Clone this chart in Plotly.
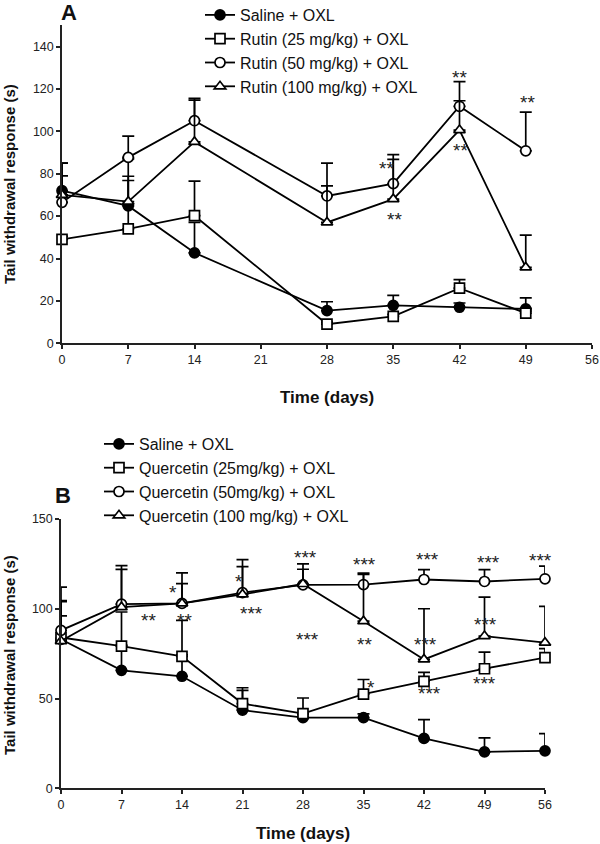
import plotly.graph_objects as go

FONT = "Liberation Sans, Arial, Helvetica, sans-serif"
W, H = 600, 844

# ---------------- Panel A data ----------------
days_a = [0, 7, 14, 28, 35, 42, 49]
names_a = ["Saline + OXL", "Rutin (25 mg/kg) + OXL", "Rutin (50 mg/kg) + OXL", "Rutin (100 mg/kg) + OXL"]
saline_a = [72, 64.8, 42.7, 15.4, 17.9, 17.0, 16.2]
saline_a_err = [13, 12, 14.3, 4.2, 4.7, 2, 5.2]
rutin25 = [49, 54, 60.2, 9, 12.7, 26, 14.2]
rutin25_err = [1.5, 33, 16.3, 1, 1, 4, 1]
rutin50 = [66.5, 87.7, 105, 69.5, 75.3, 111.8, 90.8]
rutin50_err = [12.5, 10, 10.5, 15.5, 13.7, 11.6, 18.2]
rutin100 = [70, 66.8, 95, 57, 68, 100.6, 35.8]
rutin100_err = [15, 12, 19.7, 17.3, 18.8, 13.8, 15.2]

sig_a_x = [34.3, 35.1, 42.0, 42.1, 49.2]
sig_a_y = [83.7, 60, 127, 92.5, 115]
sig_a_txt = ["**", "**", "**", "**", "**"]

# ---------------- Panel B data ----------------
days_b = [0, 7, 14, 21, 28, 35, 42, 49, 56]
names_b = ["Saline + OXL", "Quercetin (25mg/kg) + OXL", "Quercetin (50mg/kg) + OXL", "Quercetin (100 mg/kg) + OXL"]
saline_b = [83, 65.7, 62.4, 43.5, 39.4, 39.4, 27.8, 20.3, 20.9]
saline_b_err = [13, 14, 12, 11, 2, 2, 10.5, 7.8, 9.6]
querc25 = [84, 79.2, 73.5, 47.2, 41.6, 52.4, 59.6, 66.6, 72.8]
querc25_err = [20, 19, 20, 8.8, 8.7, 8.2, 5, 9.3, 5]
querc50 = [88, 102.6, 103, 109, 113.3, 113.5, 116.3, 115.2, 116.7]
querc50_err = [24, 21.4, 17, 18.4, 8.7, 6.3, 5.5, 6.6, 7]
querc100 = [82, 100.9, 103, 108, 113.8, 93.1, 71.8, 84.8, 81.1]
querc100_err = [22.6, 21, 11, 15.5, 11.2, 26, 28.2, 21.7, 20.2]

sig_b_x = [10.1, 13.0, 14.3, 20.6, 22.0, 28.3, 28.5, 35.1, 35.1, 35.9, 42.4, 42.2, 42.6, 49.5, 49.1, 49.0, 55.5]
sig_b_y = [95.3, 111, 95.3, 116.8, 99, 130, 84.8, 126.3, 81.5, 57.8, 129, 82, 54.2, 127.6, 93.1, 59.8, 128.7]
sig_b_txt = ["**", "*", "**", "*", "***", "***", "***", "***", "**", "*", "***", "***", "***", "***", "***", "***", "***"]

symbols = ["circle", "square", "circle", "triangle-up"]
fills = ["black", "white", "white", "white"]

fig = go.Figure()

def add_series(x, y, err, name, sym, fill, xa, ya, legend):
    fig.add_trace(go.Scatter(
        x=x, y=y, name=name, mode="lines+markers",
        xaxis=xa, yaxis=ya, legend=legend, cliponaxis=False,
        line=dict(color="black", width=1.8),
        marker=dict(symbol=sym, size=10, color=fill, line=dict(color="black", width=1.7)),
        error_y=dict(type="data", symmetric=False, array=err, arrayminus=[0] * len(err),
                     color="black", thickness=1.7, width=6),
    ))

series_a = [saline_a, rutin25, rutin50, rutin100]
errs_a = [saline_a_err, rutin25_err, rutin50_err, rutin100_err]
for i in range(4):
    add_series(days_a, series_a[i], errs_a[i], names_a[i], symbols[i], fills[i], "x", "y", "legend")

series_b = [saline_b, querc25, querc50, querc100]
errs_b = [saline_b_err, querc25_err, querc50_err, querc100_err]
for i in range(4):
    add_series(days_b, series_b[i], errs_b[i], names_b[i], symbols[i], fills[i], "x2", "y2", "legend2")

def px_x(p):
    return p / W

def px_y(p):
    return 1 - p / H

axis_common = dict(
    showline=True, linecolor="#222", linewidth=1.5, showgrid=False, zeroline=False,
    ticks="outside", ticklen=4, tickwidth=1.5, tickcolor="#222", automargin=False,
    tickfont=dict(family=FONT, size=12.5, color="#222"),
)

ann = []
for x, y, t in zip(sig_a_x, sig_a_y, sig_a_txt):
    ann.append(dict(x=x, y=y, xref="x", yref="y", text=t, showarrow=False, xanchor="center", yanchor="middle",
                    font=dict(family=FONT, size=19, color="#222"), yshift=-3))
for x, y, t in zip(sig_b_x, sig_b_y, sig_b_txt):
    ann.append(dict(x=x, y=y, xref="x2", yref="y2", text=t, showarrow=False, xanchor="center", yanchor="middle",
                    font=dict(family=FONT, size=19, color="#222"), yshift=-3))

def paper_text(text, x, y, size, angle=0):
    return dict(text=text, x=px_x(x), y=px_y(y), xref="paper", yref="paper", showarrow=False,
                xanchor="center", yanchor="middle", textangle=angle,
                font=dict(family=FONT, size=size, color="#111"))

ann += [
    paper_text("<b>A</b>", 69, 12, 22),
    paper_text("<b>B</b>", 63, 495, 22),
    paper_text("<b>Time (days)</b>", 327, 397, 17),
    paper_text("<b>Time (days)</b>", 303, 833, 17),
    paper_text("<b>Tail withdrawal response (s)</b>", 9, 184, 15, -90),
    paper_text("<b>Tail withdrawal response (s)</b>", 9, 655, 15, -90),
]

legend_common = dict(bgcolor="rgba(0,0,0,0)", font=dict(family=FONT, size=16, color="#111"),
                     xanchor="left", yanchor="top", itemwidth=30, tracegroupgap=0)

fig.update_layout(
    width=W, height=H, margin=dict(l=0, r=0, t=0, b=0, autoexpand=False),
    paper_bgcolor="white", plot_bgcolor="white", showlegend=True,
    font=dict(family=FONT, color="#111"),
    xaxis=dict(domain=[px_x(62), px_x(592)], range=[0, 56], tickvals=[0, 7, 14, 21, 28, 35, 42, 49, 56],
               anchor="y", **axis_common),
    yaxis=dict(domain=[px_y(343.3), px_y(25.3)], range=[0, 150], tickvals=[0, 20, 40, 60, 80, 100, 120, 140],
               anchor="x", **axis_common),
    xaxis2=dict(domain=[px_x(61), px_x(545)], range=[0, 56], tickvals=[0, 7, 14, 21, 28, 35, 42, 49, 56],
                anchor="y2", **axis_common),
    yaxis2=dict(domain=[px_y(788.3), px_y(519)], range=[0, 150], tickvals=[0, 50, 100, 150],
                anchor="x2", **axis_common),
    legend=dict(x=px_x(200), y=px_y(-2), **legend_common),
    legend2=dict(x=px_x(99), y=px_y(427), **legend_common),
    annotations=ann,
)

fig.write_html("out.html", config={"displayModeBar": False},
               post_script="document.body.style.margin='0';")
